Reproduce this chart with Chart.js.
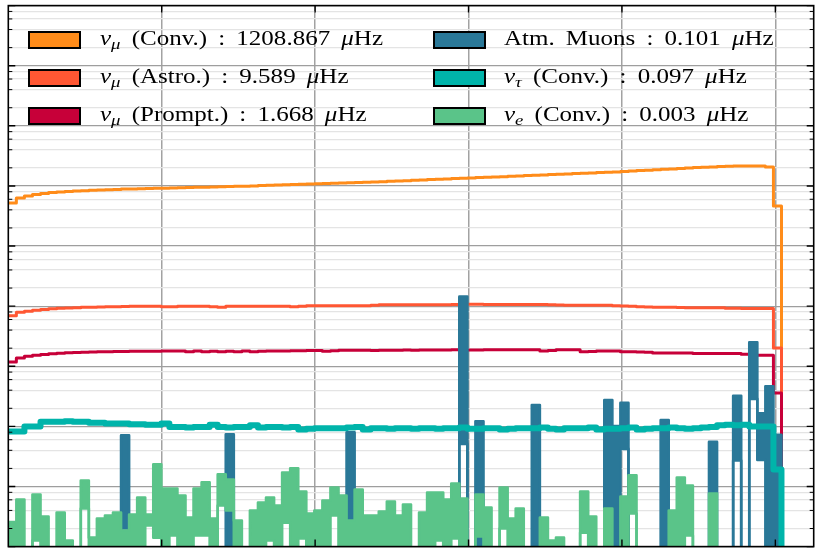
<!DOCTYPE html>
<html>
<head>
<meta charset="utf-8">
<script src="https://cdn.jsdelivr.net/npm/chart.js@4.4.1/dist/chart.umd.min.js"></script>
<style>
html,body{margin:0;padding:0;background:#fff;}
#wrap{position:relative;width:824px;height:555px;overflow:hidden;background:#fff;}
#c{position:absolute;left:0;top:0;}
.sw{position:absolute;box-sizing:border-box;border:2.8px solid #000;width:53px;height:18px;}
.lt{position:absolute;font-family:"Liberation Serif","Times New Roman",serif;font-size:20.5px;line-height:1;white-space:nowrap;color:#000;transform-origin:0 0;transform:scaleX(1.22);word-spacing:4px;}
.lt sub{font-size:0.75em;vertical-align:-0.28em;line-height:0;}
</style>
</head>
<body>
<div id="wrap"><canvas id="c" width="824" height="555"></canvas><div id="legend"></div></div>
<script>
// ---- x binning (cos zenith) ----
const BIN_MIN = -1.0, BIN_MAX = 0.05, N_BINS = 100;
const xTickValues = [-0.8, -0.6, -0.4, -0.2, 0.0];
// ---- y axis (rate per bin, microHz, log) ----
const Y_MIN = 1e-5, Y_MAX = 1e4;
const yDecades = [1e-5, 1e-4, 1e-3, 1e-2, 1e-1, 1, 1e1, 1e2, 1e3];
const yMinorSubs = [2, 4, 6, 8];

// ---- series (per bin rate in microHz; bins not listed are empty) ----
const numuConv = [5.21,6.31,6.81,7.22,7.50,7.79,7.94,8.10,8.25,8.35,
8.46,8.58,8.64,8.74,8.85,8.91,8.98,9.05,9.12,9.19,
9.26,9.33,9.40,9.48,9.55,9.62,9.70,9.77,9.85,9.92,
10.00,10.12,10.23,10.39,10.48,10.59,10.68,10.80,10.88,11.01,
11.09,11.22,11.31,11.44,11.57,11.66,11.79,11.93,12.12,12.22,
12.41,12.59,12.74,12.94,13.08,13.29,13.44,13.59,13.75,13.91,
14.07,14.24,14.46,14.68,14.85,15.03,15.26,15.44,15.62,15.85,
16.04,16.23,16.47,16.73,16.92,17.11,17.39,17.67,18.02,18.30,
18.59,18.88,19.17,19.56,19.87,20.18,20.49,20.73,20.97,21.21,
21.37,21.54,21.54,21.54,20.57,4.64];

const numuAstro = [0.0694,0.0794,0.0825,0.0858,0.0881,0.0902,0.0919,0.0933,0.0944,0.0955,
0.0962,0.0970,0.0977,0.0981,0.0989,0.0992,0.0996,0.1000,0.1000,0.0981,
0.0981,0.1000,0.1000,0.1000,0.1000,0.0981,0.0962,0.1000,0.1000,0.1000,
0.1000,0.1000,0.1000,0.1000,0.1000,0.0981,0.1000,0.1019,0.1019,0.1019,
0.1012,0.1012,0.1012,0.1012,0.1019,0.1039,0.1051,0.1051,0.1051,0.1051,
0.1051,0.1051,0.1051,0.1051,0.1059,0.1067,0.1080,0.1080,0.1072,0.1067,
0.1067,0.1067,0.1067,0.1067,0.1067,0.1067,0.1067,0.1059,0.1047,0.1039,
0.1039,0.1039,0.1039,0.1039,0.1031,0.1019,0.1008,0.0992,0.0981,0.0970,
0.0962,0.0962,0.0962,0.0951,0.0937,0.0937,0.0937,0.0937,0.0937,0.0926,
0.0919,0.0916,0.0916,0.0916,0.0916,0.0202];

const numuPrompt = [0.01180,0.01375,0.01468,0.01525,0.01573,0.01616,0.01647,0.01672,0.01692,0.01711,
0.01724,0.01738,0.01744,0.01758,0.01765,0.01778,0.01778,0.01778,0.01778,0.01799,
0.01799,0.01799,0.01744,0.01799,0.01744,0.01778,0.01744,0.01778,0.01744,0.01799,
0.01744,0.01778,0.01799,0.01799,0.01799,0.01813,0.01813,0.01827,0.01827,0.01778,
0.01813,0.01848,0.01848,0.01848,0.01848,0.01827,0.01848,0.01848,0.01848,0.01869,
0.01848,0.01869,0.01869,0.01869,0.01869,0.01884,0.01884,0.01869,0.01869,0.01884,
0.01884,0.01884,0.01884,0.01884,0.01884,0.01884,0.01799,0.01827,0.01884,0.01884,
0.01884,0.01744,0.01758,0.01792,0.01792,0.01792,0.01744,0.01744,0.01731,0.01711,
0.01666,0.01666,0.01666,0.01666,0.01666,0.01628,0.01628,0.01628,0.01628,0.01628,
0.01628,0.01585,0.01525,0.01525,0.01525,0.00359];

const nutauConv = [0.000825,0.000825,0.00100,0.00100,0.00119,0.00119,0.00119,0.00122,0.00119,0.00119,
0.00115,0.00115,0.00112,0.00112,0.00112,0.00108,0.00108,0.00106,0.00106,0.00112,
0.00098,0.00098,0.00096,0.00098,0.00098,0.00106,0.00098,0.00096,0.00098,0.00098,
0.00104,0.00096,0.00098,0.00098,0.00096,0.00098,0.00089,0.00091,0.00093,0.00093,
0.00093,0.00093,0.00096,0.00098,0.00089,0.00093,0.00093,0.00091,0.00093,0.00093,
0.00091,0.00093,0.00093,0.00091,0.00093,0.00093,0.00096,0.00091,0.00091,0.00093,
0.00093,0.00089,0.00091,0.00093,0.00093,0.00093,0.00096,0.00091,0.00089,0.00093,
0.00093,0.00093,0.00096,0.00089,0.00091,0.00091,0.00093,0.00096,0.00089,0.00091,
0.00093,0.00093,0.00096,0.00093,0.00091,0.00093,0.00096,0.00098,0.00104,0.00106,
0.00104,0.00106,0.00100,0.00100,0.00100,0.000192];

// atmospheric muons: upper / lower edge of the per-bin uncertainty band
const muonHi = [0,0,0,0,0,0,0,0,0,0,
0,0,0,0,7.08e-4,0,0,0,0,0,
0,0,0,0,0,0,0,7.36e-4,0,0,
0,0,0,0,0,0,0,0,0,0,
0,0,7.94e-4,0,0,0,0,0,0,0,
0,0,0,0,0,0,0.144,0,1.22e-3,0,
0,0,0,0,0,2.26e-3,0,0,0,0,
0,0,0,0,2.73e-3,1.01e-3,2.46e-3,0,0,0,
0,1.27e-3,0,0,0,0,0,5.52e-4,0,0,
3.22e-3,0,2.51e-2,1.65e-3,4.64e-3,7.22e-4];
const muonLo = [0,0,0,0,0,0,0,0,0,0,
0,0,0,0,2.0e-5,0,0,0,0,0,
0,0,0,0,0,0,0,0,0,0,
0,0,0,0,0,0,0,0,0,0,
0,0,2.0e-5,0,0,0,0,0,0,0,
0,0,0,0,0,0,5.11e-4,0,0,0,
0,0,0,0,0,0,0,0,0,0,
0,0,0,0,0,0,4.22e-4,0,0,0,
0,0,0,0,0,0,0,0,0,0,
2.71e-4,0,2.87e-3,2.77e-4,0,0];

// nu_e conventional: upper / lower edge of the per-bin band
const nueHi = [2.56e-5,6.07e-5,0,7.36e-5,3.16e-5,0,3.69e-5,1.26e-5,0,1.26e-4,
1.41e-5,2.93e-5,3.29e-5,3.69e-5,1.85e-5,3.41e-5,6.56e-5,3.41e-5,2.33e-4,9.26e-5,
9.26e-5,7.08e-5,3.04e-5,9.26e-5,1.17e-4,2.93e-5,1.59e-4,1.31e-4,2.71e-5,0,
3.98e-5,5.41e-5,6.56e-5,4.82e-5,1.71e-4,2.00e-4,8.25e-5,3.55e-5,3.98e-5,5.84e-5,
9.62e-5,7.08e-5,2.71e-5,8.91e-5,3.29e-5,3.29e-5,3.83e-5,5.62e-5,3.29e-5,5.01e-5,
0,3.69e-5,7.94e-5,7.94e-5,6.07e-5,1.12e-4,6.31e-5,0,7.36e-5,4.47e-5,
0,9.62e-5,2.93e-5,4.30e-5,0,0,3.04e-5,1.26e-5,1.41e-5,0,
0,8.25e-5,3.16e-5,0,4.30e-5,0,6.81e-5,1.53e-4,0,0,
0,0,3.98e-5,1.41e-4,1.04e-4,0,0,7.64e-5,0,0,
0,0,0,0,0,0];
const nueLo = [0,0,0,1.26e-5,0,0,0,0,0,4.30e-5,
0,0,0,0,0,0,0,2.24e-5,1.41e-5,0,
1.53e-5,0,0,1.53e-5,1.53e-5,0,4.82e-5,3.98e-5,0,0,
0,0,1.26e-5,0,2.51e-5,0,1.36e-5,0,0,0,
3.29e-5,0,0,0,0,0,0,0,0,0,
0,0,0,1.26e-5,0,1.36e-5,0,0,1.47e-5,0,
0,2.0e-5,0,0,0,0,0,0,0,0,
0,1.71e-5,0,0,0,0,0,3.55e-5,0,0,
0,0,0,0,1.53e-5,0,0,0,0,0,
0,0,0,0,0,0];

// ---- legend ----
const seriesNames = ['<i>ν</i><sub><i>μ</i></sub> (Conv.)', '<i>ν</i><sub><i>μ</i></sub> (Astro.)', '<i>ν</i><sub><i>μ</i></sub> (Prompt.)',
                     'Atm. Muons', '<i>ν</i><sub><i>τ</i></sub> (Conv.)', '<i>ν</i><sub><i>e</i></sub> (Conv.)'];
const seriesRates = [1208.867, 9.589, 1.668, 0.101, 0.097, 0.003];
const seriesColors = ['#FF8C1A', '#FF5733', '#C70039', '#2A7898', '#00B4AA', '#5AC489'];

// ---- build ----
const FLOOR = 1e-8; // empty bins are drawn below the axis
const binEdges = [];
for (let i = 0; i <= N_BINS; i++) binEdges.push(BIN_MIN + (BIN_MAX - BIN_MIN) * i / N_BINS);

function stepPts(vals) {
  const pts = [];
  for (let i = 0; i < N_BINS; i++) {
    const v = (i < vals.length && vals[i] > 0) ? vals[i] : FLOOR;
    pts.push({x: binEdges[i], y: v});
  }
  pts.push({x: binEdges[N_BINS], y: FLOOR});
  return pts;
}
function lineDs(vals, color, width, order) {
  return {data: stepPts(vals), borderColor: color, backgroundColor: color, borderWidth: width,
          stepped: true, fill: false, pointRadius: 0, tension: 0, order: order,
          borderJoinStyle: 'round', borderCapStyle: 'round'};
}
function bandDs(hi, lo, color, order) {
  const upper = lineDs(hi, color, 2.6, order); upper.fill = '+1';
  const lower = lineDs(lo, color, 2.6, order - 1);
  return [upper, lower];
}

const datasets = [
  lineDs(numuConv, seriesColors[0], 3, 20),
  lineDs(numuAstro, seriesColors[1], 3, 19),
  lineDs(numuPrompt, seriesColors[2], 3, 18),
  ...bandDs(muonHi, muonLo, seriesColors[3], 17),
  lineDs(nutauConv, seriesColors[4], 6, 14),
  ...bandDs(nueHi, nueLo, seriesColors[5], 13)
];

const yTickObjs = [];
yDecades.forEach(d => {
  yTickObjs.push({value: d, major: true});
  yMinorSubs.forEach(s => yTickObjs.push({value: d * s, major: false}));
});
yTickObjs.push({value: Y_MAX, major: true});

const framePlugin = {
  id: 'frame',
  afterDraw(chart) {
    const {ctx, chartArea: a, scales: {x, y}} = chart;
    ctx.save();
    ctx.strokeStyle = '#000';
    y.ticks.forEach(t => {
      const py = y.getPixelForValue(t.value);
      const L = t.major ? 7 : 4;
      ctx.lineWidth = t.major ? 1.4 : 1;
      ctx.beginPath();
      ctx.moveTo(a.left, py); ctx.lineTo(a.left + L, py);
      ctx.moveTo(a.right, py); ctx.lineTo(a.right - L, py);
      ctx.stroke();
    });
    ctx.lineWidth = 1.4;
    x.ticks.forEach(t => {
      const px = x.getPixelForValue(t.value);
      ctx.beginPath();
      ctx.moveTo(px, a.bottom); ctx.lineTo(px, a.bottom - 7);
      ctx.moveTo(px, a.top); ctx.lineTo(px, a.top + 7);
      ctx.stroke();
    });
    ctx.lineWidth = 1.6;
    ctx.strokeRect(a.left, a.top, a.right - a.left, a.bottom - a.top);
    ctx.restore();
  }
};

new Chart(document.getElementById('c'), {
  type: 'line',
  data: {datasets},
  options: {
    responsive: false, animation: false, devicePixelRatio: 1,
    layout: {padding: {left: 8.3, right: 10.3, top: 5.6, bottom: 8.4}},
    plugins: {legend: {display: false}, tooltip: {enabled: false}},
    scales: {
      x: {type: 'linear', min: BIN_MIN, max: BIN_MAX,
          afterBuildTicks: s => { s.ticks = xTickValues.map(v => ({value: v})); },
          afterFit: s => { s.height = 0; },
          ticks: {display: false},
          grid: {color: '#a2a2a2', lineWidth: 1.5, drawTicks: false},
          border: {display: false}},
      y: {type: 'logarithmic', min: Y_MIN, max: Y_MAX,
          afterBuildTicks: s => { s.ticks = yTickObjs.map(t => ({value: t.value, major: t.major})); },
          afterFit: s => { s.width = 0; },
          ticks: {display: false},
          grid: {color: c => (c.tick && c.tick.major) ? '#9e9e9e' : '#e4e4e4',
                 lineWidth: c => (c.tick && c.tick.major) ? 1.3 : 1.3, drawTicks: false},
          border: {display: false}}
    }
  },
  plugins: [framePlugin]
});

// HTML legend
const legend = document.getElementById('legend');
const swX = [28.3, 432.7], txtX = [100, 503.7], rowTop = [30.5, 68.5, 107], txtTop = [27.6, 65.9, 104.3];
seriesNames.forEach((nm, k) => {
  const col = k < 3 ? 0 : 1, row = k % 3;
  const sw = document.createElement('div');
  sw.className = 'sw';
  sw.style.left = swX[col] + 'px'; sw.style.top = rowTop[row] + 'px';
  sw.style.background = seriesColors[k];
  legend.appendChild(sw);
  const t = document.createElement('div');
  t.className = 'lt';
  t.style.left = txtX[col] + 'px'; t.style.top = txtTop[row] + 'px';
  t.innerHTML = nm + ' : ' + seriesRates[k].toFixed(3) + ' <i>μ</i>Hz';
  legend.appendChild(t);
});
</script>
</body>
</html>
